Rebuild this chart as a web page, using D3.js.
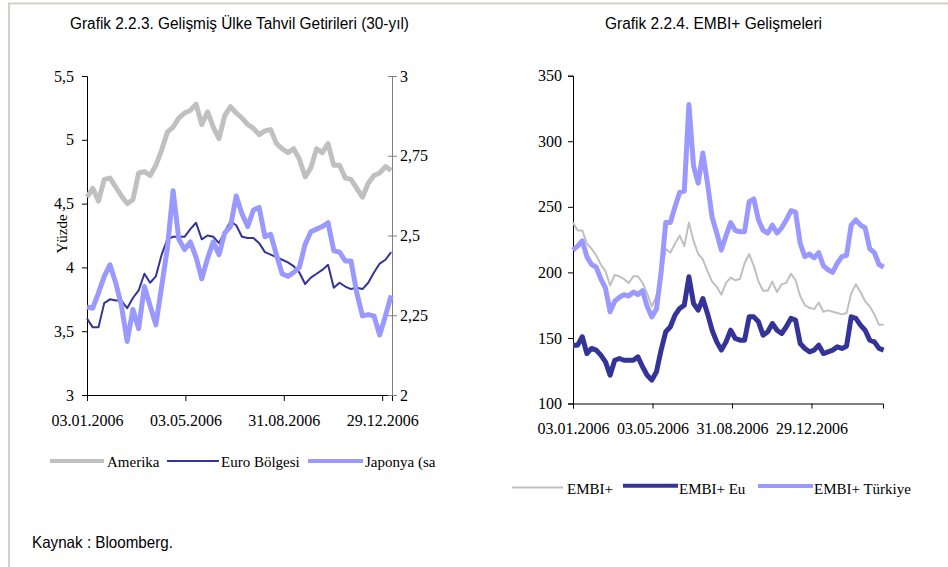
<!DOCTYPE html>
<html><head><meta charset="utf-8">
<script src="https://cdn.jsdelivr.net/npm/d3@7"></script>
<style>body{margin:0;background:#fff}</style>
</head><body><svg id="c" width="948" height="567"></svg>
<script>
// ---------- data ----------
const leftTitle = "Grafik 2.2.3. Gelişmiş Ülke Tahvil Getirileri (30-yıl)";
const rightTitle = "Grafik 2.2.4. EMBI+ Gelişmeleri";
const sourceText = "Kaynak : Bloomberg.";
const firstDate = "03.01.2006";
const sampleStepDays = 7; // weekly readings
const xTickLabels = ["03.01.2006", "03.05.2006", "31.08.2006", "29.12.2006"];
const leftYTicks = [3, 3.5, 4, 4.5, 5, 5.5];
const rightYTicks = [2, 2.25, 2.5, 2.75, 3];
const embiYTicks = [100, 150, 200, 250, 300, 350];
const leftNames = ["Amerika", "Euro Bölgesi", "Japonya (sa"];
const rightNames = ["EMBI+", "EMBI+ Eu", "EMBI+ Türkiye"];
const leftYLabel = "Yüzde";
const rightYLabel = "Baz";

// 30-year yields, % (Amerika, Euro on left axis; Japonya on right axis)
const amerika = [4.55,4.62,4.52,4.69,4.70,4.63,4.56,4.50,4.53,4.74,4.75,4.72,4.80,4.92,5.06,5.10,5.17,5.21,5.23,5.28,
  5.12,5.22,5.10,5.01,5.19,5.26,5.21,5.17,5.12,5.09,5.04,5.07,5.08,4.97,4.93,4.90,4.93,4.85,4.71,4.78,
  4.93,4.90,4.97,4.80,4.80,4.70,4.69,4.62,4.55,4.66,4.72,4.74,4.79,4.76];
const euro = [3.60,3.53,3.53,3.72,3.75,3.74,3.74,3.68,3.76,3.82,3.95,3.88,3.93,4.10,4.22,4.24,4.24,4.24,4.30,4.35,
  4.22,4.25,4.24,4.19,4.28,4.36,4.33,4.24,4.23,4.23,4.19,4.12,4.10,4.08,4.06,4.04,4.01,3.96,3.87,3.92,
  3.95,3.98,4.02,3.84,3.88,3.85,3.83,3.84,3.83,3.88,3.96,4.03,4.06,4.12];
const japonya = [2.276,2.272,2.320,2.372,2.408,2.352,2.280,2.168,2.268,2.208,2.340,2.280,2.220,2.340,2.460,2.640,2.488,2.456,2.480,2.432,
  2.364,2.428,2.480,2.440,2.508,2.528,2.624,2.568,2.528,2.580,2.588,2.496,2.504,2.440,2.380,2.372,2.384,2.400,2.472,2.512,
  2.520,2.528,2.540,2.452,2.448,2.420,2.420,2.320,2.248,2.252,2.248,2.188,2.248,2.312];

// EMBI+ spreads, basis points
const embi = [238,232,232,222,218,213,206,201,190,198,197,195,192,197,197,192,184,174,182,198,
  218,215,222,228,220,238,224,214,210,201,193,189,183,192,196,194,195,207,214,205,
  193,186,186,193,185,191,192,199,194,182,175,173,172,177,170,171,170,169,168,169,
  184,191,185,178,174,168,160,160];
const embiEu = [144.5,144.5,150.9,138.1,142,140.7,136.9,131.8,121.6,133,134.3,133,133,133,135.6,128,121.6,117.8,124.2,140.7,
  154.7,158.5,167.4,172.5,175,196.6,176.3,171.2,180.1,168.7,155.9,147,140.7,147,155.9,149.6,148.3,148.3,166.1,166.1,
  162.3,152.1,154.7,161,155.9,153.4,158.5,164.9,163.6,145.8,142,139.4,140.7,144.5,138.1,139.4,140.7,143.2,142,143.7,
  166.1,164.9,159.8,155.9,148.3,147,142,140.7];
const embiTr = [217,220,224,212,206,204,195,188,170,178,181,183,182,185,183,186,174,166,172,200,
  238,238,250,261,262,328,281,268,291,268,242,230,217,228,238,232,231,231,254,256,
  240,232,230,236,230,234,240,247,246,222,212,214,211,215,205,202,200,207,212,213,
  236,240,236,234,218,215,206,204];

// ---------- drawing ----------
const svg = d3.select("#c");
const parse = d3.timeParse("%d.%m.%Y");
const t0 = parse(firstDate);
const datesFor = arr => arr.map((v, i) => d3.timeDay.offset(t0, sampleStepDays * i));
const loc = d3.formatLocale({decimal: ",", thousands: ".", grouping: [3], currency: ["", ""]});
const fmt = loc.format("~g");
const serif = "'Liberation Serif','Times New Roman',serif";
const narrow = "'Liberation Sans Narrow','Arial Narrow','Liberation Sans',sans-serif";

// frame
svg.append("rect").attr("width", 948).attr("height", 567).attr("fill", "#fff");
svg.append("line").attr("x1", 8).attr("x2", 948).attr("y1", 3.5).attr("y2", 3.5).attr("stroke", "#d4d0c8").attr("stroke-width", 2);
svg.append("line").attr("x1", 9).attr("x2", 9).attr("y1", 3).attr("y2", 567).attr("stroke", "#d4d0c8").attr("stroke-width", 2);

function title(txt, cx, len) {
  svg.append("text").attr("x", cx).attr("y", 29).attr("text-anchor", "middle")
    .attr("font-family", narrow).attr("font-size", 16).attr("fill", "#000")
    .attr("textLength", len).attr("lengthAdjust", "spacingAndGlyphs").text(txt);
}
title(leftTitle, 239.5, 339);
title(rightTitle, 713.5, 217);
svg.append("text").attr("x", 32).attr("y", 548).attr("font-family", narrow).attr("font-size", 16.5)
  .attr("textLength", 141).attr("lengthAdjust", "spacingAndGlyphs").text(sourceText);

function styleAxis(g, color) {
  g.select(".domain").attr("stroke", color);
  g.selectAll(".tick line").attr("stroke", color);
  g.selectAll(".tick text").attr("font-family", serif).attr("font-size", 16).attr("fill", "#000");
}

// ---------- left chart ----------
{
  const x = d3.scaleTime().domain([t0, d3.timeDay.offset(t0, 372)]).range([87, 392]);
  const yL = d3.scaleLinear().domain([3, 5.5]).range([395, 76]);
  const yR = d3.scaleLinear().domain([2, 3]).range([395, 76]);
  const xt = xTickLabels.map(parse);

  const gx = svg.append("g").attr("transform", "translate(0,395)")
    .call(d3.axisBottom(x).tickValues(xt).tickFormat((d, i) => xTickLabels[i]).tickSizeOuter(0).tickSize(6).tickPadding(14));
  styleAxis(gx, "#000");
  const gy = svg.append("g").attr("transform", "translate(87,0)")
    .call(d3.axisLeft(yL).tickValues(leftYTicks).tickFormat(fmt).tickSizeOuter(0).tickSize(5).tickPadding(8));
  styleAxis(gy, "#000");
  const gy2 = svg.append("g").attr("transform", "translate(392,0)")
    .call(d3.axisRight(yR).tickValues(rightYTicks).tickFormat(fmt).tickSizeOuter(0).tickSize(5).tickPadding(3));
  styleAxis(gy2, "#808080");
  gy2.selectAll(".tick line").attr("x1", -4);

  const dA = datesFor(amerika), dE = datesFor(euro), dJ = datesFor(japonya);
  const lineL = (dates, y) => d3.line().x((v, i) => x(dates[i])).y(v => y(v));
  svg.append("path").attr("d", lineL(dA, yL)(amerika)).attr("fill", "none").attr("stroke", "#c0c0c0").attr("stroke-width", 5).attr("stroke-linejoin", "round");
  svg.append("path").attr("d", lineL(dE, yL)(euro)).attr("fill", "none").attr("stroke", "#333399").attr("stroke-width", 2).attr("stroke-linejoin", "round");
  svg.append("path").attr("d", lineL(dJ, yR)(japonya)).attr("fill", "none").attr("stroke", "#9999ff").attr("stroke-width", 5).attr("stroke-linejoin", "round");

  svg.append("text").attr("transform", "translate(67,234) rotate(-90)").attr("text-anchor", "middle")
    .attr("font-family", serif).attr("font-size", 15).text(leftYLabel);

  // legend
  const leg = [
    {x1: 50, x2: 104, tx: 107, c: "#c0c0c0", w: 4},
    {x1: 167, x2: 219, tx: 221, c: "#333399", w: 2},
    {x1: 308, x2: 363, tx: 365, c: "#9999ff", w: 4}
  ];
  leg.forEach((l, i) => {
    svg.append("line").attr("x1", l.x1).attr("x2", l.x2).attr("y1", 461).attr("y2", 461).attr("stroke", l.c).attr("stroke-width", l.w);
    svg.append("text").attr("x", l.tx).attr("y", 466.5).attr("font-family", serif).attr("font-size", 15).text(leftNames[i]);
  });
}

// ---------- right chart ----------
{
  const x = d3.scaleTime().domain([t0, d3.timeDay.offset(t0, 468)]).range([573, 883]);
  const y = d3.scaleLinear().domain([100, 350]).range([403.5, 75.7]);
  const xt = xTickLabels.map(parse);
  const gx = svg.append("g").attr("transform", "translate(0,403.5)")
    .call(d3.axisBottom(x).tickValues(xt).tickFormat((d, i) => xTickLabels[i]).tickSizeOuter(0).tickSize(5).tickPadding(14));
  styleAxis(gx, "#000");
  const gy = svg.append("g").attr("transform", "translate(573,0)")
    .call(d3.axisLeft(y).tickValues(embiYTicks).tickFormat(fmt).tickSizeOuter(0).tickSize(5).tickPadding(6));
  styleAxis(gy, "#000");

  const ln = dates => d3.line().x((v, i) => x(dates[i])).y(v => y(v));
  svg.append("path").attr("d", ln(datesFor(embi))(embi)).attr("fill", "none").attr("stroke", "#c0c0c0").attr("stroke-width", 2).attr("stroke-linejoin", "round");
  svg.append("path").attr("d", ln(datesFor(embiEu))(embiEu)).attr("fill", "none").attr("stroke", "#333399").attr("stroke-width", 5).attr("stroke-linejoin", "round");
  svg.append("path").attr("d", ln(datesFor(embiTr))(embiTr)).attr("fill", "none").attr("stroke", "#9999ff").attr("stroke-width", 5).attr("stroke-linejoin", "round");

  svg.append("clipPath").attr("id", "bazclip").append("rect").attr("x", 511).attr("y", 100).attr("width", 8).attr("height", 40);
  svg.append("text").attr("clip-path", "url(#bazclip)").attr("transform", "translate(522,122) rotate(-90)").attr("text-anchor", "middle")
    .attr("font-family", serif).attr("font-size", 15).text(rightYLabel);

  const leg = [
    {x1: 512, x2: 563, tx: 567, c: "#c0c0c0", w: 2, y: 487.5},
    {x1: 623, x2: 678, tx: 679, c: "#333399", w: 4, y: 485.7},
    {x1: 758, x2: 813, tx: 814, c: "#9999ff", w: 4, y: 486}
  ];
  leg.forEach((l, i) => {
    svg.append("line").attr("x1", l.x1).attr("x2", l.x2).attr("y1", l.y).attr("y2", l.y).attr("stroke", l.c).attr("stroke-width", l.w);
    svg.append("text").attr("x", l.tx).attr("y", 494).attr("font-family", serif).attr("font-size", 15).text(rightNames[i]);
  });
}
</script></body></html>
